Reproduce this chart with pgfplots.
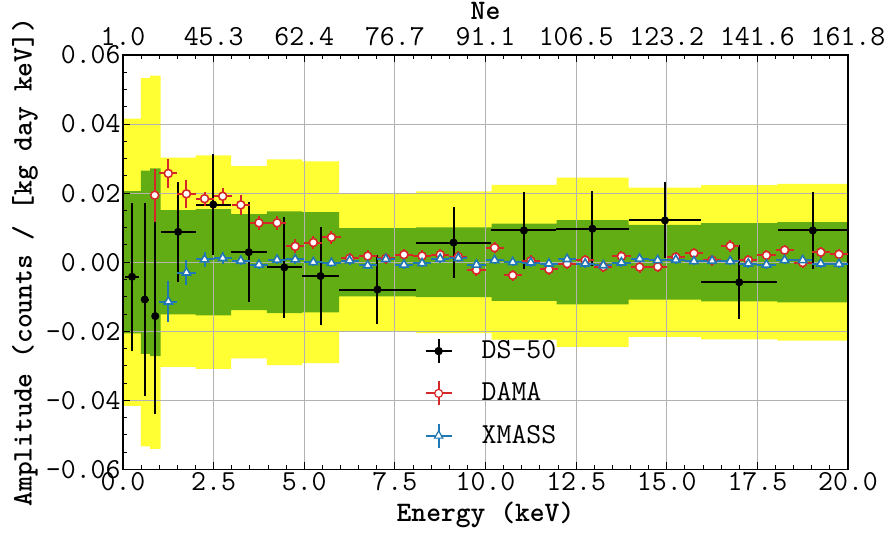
\documentclass[border=0pt]{standalone}
\usepackage{pgfplots}
\usepackage{pgfplotstable}
\pgfplotsset{compat=1.18}
\usepgfplotslibrary{fillbetween}

\definecolor{bandtwo}{RGB}{255,255,51}
\definecolor{bandone}{RGB}{99,173,20}
\definecolor{damared}{RGB}{214,39,40}
\definecolor{xmblue}{RGB}{31,119,180}

\newcommand{\tickfont}{\ttfamily\fontsize{14.5}{16}\selectfont}
\newcommand{\labfont}{\ttfamily\bfseries\fontsize{14.1}{16}\selectfont}

\newcommand{\legcross}[2]{%
  \draw[#1, line width=1pt] (-6.5pt,0pt) -- (6.5pt,0pt);
  \draw[#1, line width=1pt] (0pt,-6pt) -- (0pt,6pt);
  \draw[#1, line width=0.6pt, #2] plot coordinates {(0pt,0pt)};
}

\pgfplotstableread{
e y2 g1
0 0.0416 0.0206
0.49 0.0533 0.0265
0.75 0.0540 0.0272
1.04 0.0303 0.0151
2.00 0.0309 0.0154
2.98 0.0278 0.0139
3.97 0.0298 0.0147
4.94 0.0292 0.0145
5.96 0.0199 0.0099
8.08 0.0205 0.0101
10.17 0.0224 0.0112
11.96 0.0245 0.0122
13.95 0.0216 0.0108
15.95 0.0223 0.0113
18.05 0.0227 0.0116
20.00 0.0227 0.0116
}\bands

\pgfplotstableread{
x y xe ye
0.25 -0.0042 0.19 0.0214
0.60 -0.0108 0.11 0.0280
0.89 -0.0156 0.10 0.0284
1.52 0.0088 0.48 0.0144
2.49 0.0167 0.49 0.0147
3.47 0.0029 0.495 0.0144
4.45 -0.0015 0.485 0.0145
5.45 -0.0040 0.51 0.0141
7.02 -0.0079 1.06 0.0099
9.12 0.0057 1.045 0.0103
11.06 0.0092 0.895 0.0112
12.95 0.0097 0.995 0.0109
14.95 0.0121 1.00 0.0110
17.00 -0.0058 1.05 0.0107
19.03 0.0092 0.975 0.0112
}\dsfifty

\pgfplotstableread{
x y xe ye
0.875 0.0194 0.125 0.0077
1.25 0.0257 0.25 0.0042
1.75 0.0198 0.25 0.0040
2.25 0.0184 0.25 0.0020
2.75 0.0191 0.25 0.0023
3.25 0.0166 0.25 0.0028
3.75 0.0114 0.25 0.0020
4.25 0.0114 0.25 0.0020
4.75 0.0046 0.25 0.0020
5.25 0.0057 0.25 0.0020
5.75 0.0072 0.25 0.0018
6.25 0.0011 0.25 0.0016
6.75 0.0018 0.25 0.0016
7.25 0.0011 0.25 0.0016
7.75 0.0022 0.25 0.0016
8.25 0.0018 0.25 0.0016
8.75 0.0022 0.25 0.0016
9.25 0.0016 0.25 0.0016
9.75 -0.0023 0.25 0.0016
10.25 0.0042 0.25 0.0016
10.75 -0.0038 0.25 0.0016
11.25 0.0004 0.25 0.0016
11.75 -0.0021 0.25 0.0016
12.25 -0.0004 0.25 0.0016
12.75 0.0006 0.25 0.0016
13.25 -0.0013 0.25 0.0016
13.75 0.0017 0.25 0.0016
14.25 -0.0014 0.25 0.0016
14.75 -0.0013 0.25 0.0016
15.25 0.0015 0.25 0.0016
15.75 0.0026 0.25 0.0016
16.25 0.0006 0.25 0.0016
16.75 0.0047 0.25 0.0016
17.25 0.0006 0.25 0.0016
17.75 0.0020 0.25 0.0016
18.25 0.0035 0.25 0.0016
18.75 -0.0001 0.25 0.0016
19.25 0.0029 0.25 0.0016
19.75 0.0023 0.25 0.0016
}\dama

\pgfplotstableread{
x y xe ye
1.25 -0.0114 0.25 0.0060
1.75 -0.0030 0.25 0.0036
2.25 0.0008 0.25 0.0023
2.75 0.0012 0.25 0.0017
3.25 0.0004 0.25 0.0012
3.75 -0.0007 0.25 0.0012
4.25 0.0007 0.25 0.0012
4.75 0.0008 0.25 0.0012
5.25 0.0000 0.25 0.0012
5.75 -0.0002 0.25 0.0012
6.25 0.0005 0.25 0.0012
6.75 -0.0009 0.25 0.0012
7.25 0.0009 0.25 0.0012
7.75 -0.0007 0.25 0.0012
8.25 -0.0003 0.25 0.0012
8.75 0.0010 0.25 0.0012
9.25 0.0012 0.25 0.0012
9.75 -0.0007 0.25 0.0012
10.25 0.0006 0.25 0.0012
10.75 0.0000 0.25 0.0012
11.25 -0.0001 0.25 0.0012
11.75 -0.0004 0.25 0.0012
12.25 0.0009 0.25 0.0012
12.75 -0.0004 0.25 0.0012
13.25 -0.0009 0.25 0.0012
13.75 -0.0001 0.25 0.0012
14.25 0.0010 0.25 0.0012
14.75 0.0006 0.25 0.0012
15.25 0.0007 0.25 0.0012
15.75 0.0003 0.25 0.0012
16.25 0.0004 0.25 0.0012
16.75 0.0003 0.25 0.0012
17.25 -0.0004 0.25 0.0012
17.75 -0.0007 0.25 0.0012
18.25 0.0006 0.25 0.0012
18.75 0.0006 0.25 0.0012
19.25 -0.0004 0.25 0.0012
19.75 -0.0005 0.25 0.0012
}\xmass

\begin{document}
\begin{tikzpicture}
\begin{axis}[
  name=main,
  set layers,
  scale only axis, width=362.5pt, height=207.25pt,
  xmin=0, xmax=20, ymin=-0.06, ymax=0.06,
  scaled x ticks=false, scaled y ticks=false,
  xtick={0,2.5,5,7.5,10,12.5,15,17.5,20},
  xticklabels={0.0,2.5,5.0,7.5,10.0,12.5,15.0,17.5,20.0},
  ytick={-0.06,-0.04,-0.02,0,0.02,0.04,0.06},
  yticklabels={-0.06,-0.04,-0.02,0.00,0.02,0.04,0.06},
  minor x tick num=4, minor y tick num=3,
  xtick pos=bottom, ytick pos=left,
  tick align=inside,
  major tick length=3.5pt, minor tick length=2pt,
  tick style={black, line width=0.5pt},
  axis line style={black, line width=0.6pt},
  grid=major, major grid style={black!30, line width=0.5pt},
  ticklabel style={font=\tickfont},
  yticklabel style={xshift=2.3pt},
  xticklabel style={yshift=2.1pt},
  xlabel={Energy (keV)},
  ylabel={Amplitude (counts / [kg day keV])},
  every axis x label/.style={at={(axis description cs:0.5,-0.11)}, anchor=center, font=\labfont},
  every axis y label/.style={at={(axis description cs:-0.135,0.5)}, rotate=90, anchor=center, font=\labfont},
  legend style={draw=none, fill=none, inner sep=0pt, at={(axis cs:8.31,-0.0214)}, anchor=north west,
    font=\tickfont, row sep=6.6pt, column sep=12.5pt},
  legend cell align=left,
]
\addplot[const plot, draw=none, name path=yu, forget plot] table[x=e,y=y2]{\bands};
\addplot[const plot, draw=none, name path=yl, forget plot] table[x=e,y expr=-\thisrow{y2}]{\bands};
\addplot[const plot, draw=none, name path=gu, forget plot] table[x=e,y=g1]{\bands};
\addplot[const plot, draw=none, name path=gl, forget plot] table[x=e,y expr=-\thisrow{g1}]{\bands};
\addplot[bandtwo, forget plot] fill between[of=yu and yl, on layer=axis background];
\addplot[bandone, forget plot] fill between[of=gu and gl, on layer=axis background];

\addplot[black, line width=1.5pt, forget plot] coordinates {(0,0.0084) (0,0.06)};

\addplot[black, only marks, mark=*, mark size=1.8pt,
  legend image code/.code={\legcross{black}{mark=*, mark size=1.8pt}},
  error bars/.cd, x dir=both, x explicit, y dir=both, y explicit,
  error bar style={line width=1pt, black}, error mark=none]
  table[x=x,y=y,x error=xe,y error=ye]{\dsfifty};
\addlegendentry{DS-50}

\addplot[damared, only marks, mark=*, mark size=2pt, line width=0.8pt, mark options={fill=white, draw=damared},
  legend image code/.code={\legcross{damared}{mark=*, mark size=2pt, mark options={fill=white, draw=damared}}},
  error bars/.cd, x dir=both, x explicit, y dir=both, y explicit,
  error bar style={line width=1pt, damared}, error mark=none]
  table[x=x,y=y,x error=xe,y error=ye]{\dama};
\addlegendentry{DAMA}

\addplot[xmblue, only marks, mark=triangle*, mark size=2.4pt, line width=0.8pt, mark options={fill=white, draw=xmblue},
  legend image code/.code={\legcross{xmblue}{mark=triangle*, mark size=2.4pt, mark options={fill=white, draw=xmblue}}},
  error bars/.cd, x dir=both, x explicit, y dir=both, y explicit,
  error bar style={line width=1pt, xmblue}, error mark=none]
  table[x=x,y=y,x error=xe,y error=ye]{\xmass};
\addlegendentry{XMASS}
\end{axis}

\begin{axis}[
  scale only axis, width=362.5pt, height=207.25pt,
  xmin=0, xmax=20, ymin=-0.06, ymax=0.06,
  scaled x ticks=false, scaled y ticks=false,
  axis x line*=top, hide y axis,
  xtick={0,2.5,5,7.5,10,12.5,15,17.5,20},
  xticklabels={1.0,45.3,62.4,76.7,91.1,106.5,123.2,141.6,161.8},
  minor x tick num=4,
  tick align=inside,
  major tick length=3.5pt, minor tick length=2pt,
  tick style={black, line width=0.5pt},
  axis line style={black, line width=0.6pt, -},
  ticklabel style={font=\tickfont},
  xticklabel style={yshift=0.8pt},
  xlabel={Ne},
  every axis x label/.style={at={(axis description cs:0.5,1)}, yshift=22pt, anchor=center, font=\labfont},
]
\addplot[draw=none, forget plot] coordinates {(0,0)};
\end{axis}

\pgfresetboundingbox
\path[use as bounding box] ([xshift=-61.5pt,yshift=-31.75pt]main.south west) rectangle ++(444pt,266.5pt);
\end{tikzpicture}
\end{document}
